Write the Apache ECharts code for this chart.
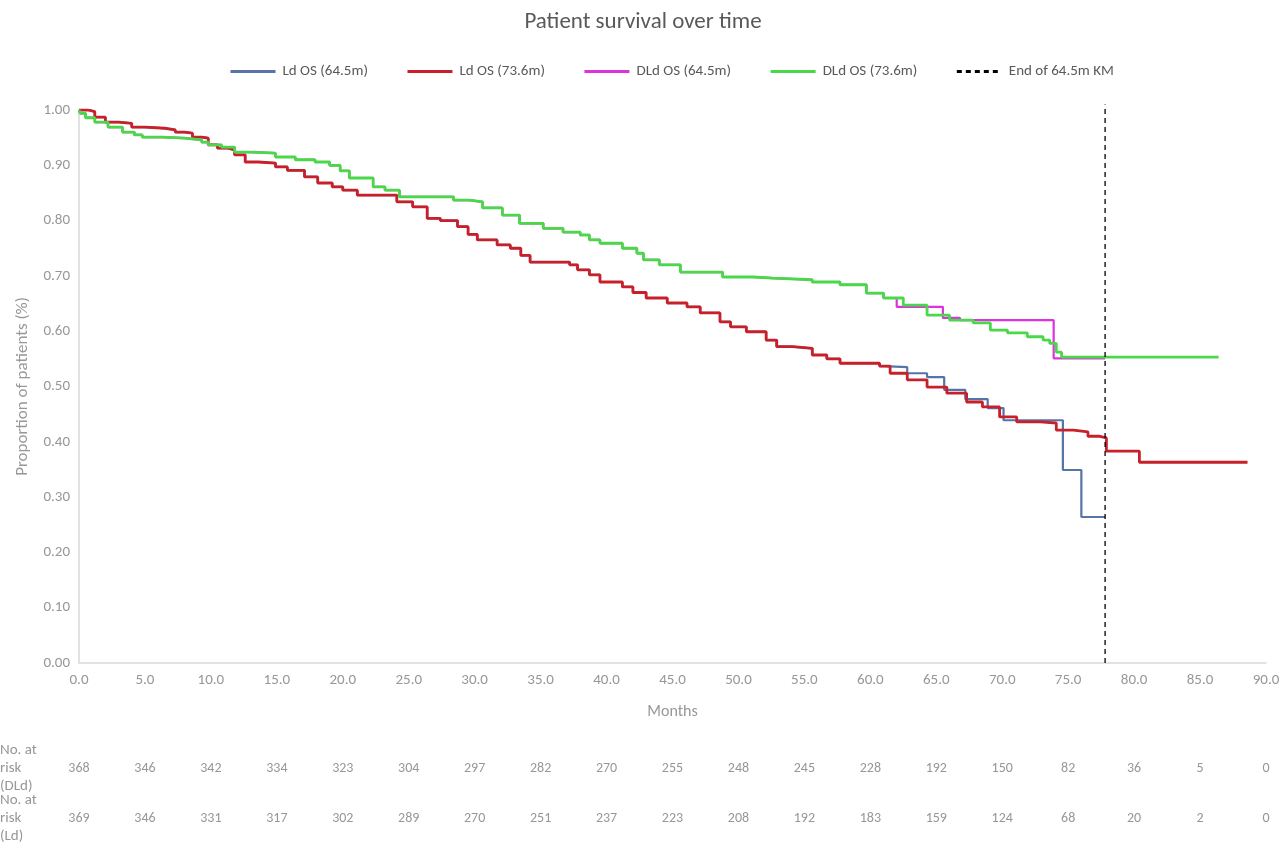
<!DOCTYPE html>
<html>
<head>
<meta charset="utf-8">
<script src="https://cdn.jsdelivr.net/npm/echarts@6/dist/echarts.min.js"></script>
<style>
html,body{margin:0;padding:0;background:#fff;}
#chart{width:1286px;height:854px;}
</style>
</head>
<body>
<div id="chart"></div>
<script>
// ---- Data ----
var titleText = 'Patient survival over time';
var seriesNames = ['Ld OS (64.5m)', 'Ld OS (73.6m)', 'DLd OS (64.5m)', 'DLd OS (73.6m)', 'End of 64.5m KM'];

// Ld OS (73.6m) : [month, survival]
var ldOS736 = [[0,1],[0.7,0.997],[1.2,0.987],[2,0.978],[3,0.976],[4,0.969],[5,0.967],[6.5,0.964],[7.3,0.96],[8,0.958],[8.6,0.951],[9.3,0.949],[9.8,0.937],[10.5,0.931],[11.3,0.928],[11.8,0.919],[12.6,0.906],[13.6,0.904],[14.9,0.897],[15.8,0.891],[17.1,0.879],[18.1,0.868],[19.2,0.861],[20,0.855],[21.1,0.846],[24.1,0.834],[25.3,0.825],[26.4,0.804],[27.4,0.80],[28.7,0.789],[29.5,0.775],[30.2,0.765],[31.7,0.756],[32.7,0.75],[33.5,0.737],[34.2,0.725],[37.2,0.72],[37.8,0.711],[38.7,0.702],[39.5,0.689],[41.2,0.68],[42,0.67],[43,0.66],[44.6,0.651],[46.1,0.644],[47.1,0.633],[48.6,0.617],[49.4,0.608],[50.6,0.599],[52.1,0.584],[52.9,0.572],[54.1,0.569],[55.6,0.557],[56.7,0.55],[57.7,0.542],[60.7,0.537],[61.5,0.524],[62.8,0.512],[64.3,0.499],[65.8,0.488],[67.3,0.472],[68.5,0.463],[69.8,0.445],[71.1,0.436],[72.9,0.434],[74.1,0.421],[75.4,0.418],[76.5,0.41],[77.4,0.407],[77.9,0.383],[80.4,0.363],[88.6,0.363]];
// Ld OS (64.5m): same as above until ~61 months, then:
var ldOS645Tail = [[61,0.535],[62.8,0.524],[64.3,0.517],[65.6,0.494],[67.2,0.477],[68.9,0.461],[70.1,0.439],[74.6,0.349],[76.0,0.264],[77.8,0.264]];
// DLd OS (73.6m)
var dldOS736 = [[0,1],[0.1,0.994],[0.5,0.986],[1.2,0.978],[2.2,0.969],[3.3,0.96],[4.2,0.955],[4.8,0.951],[6.3,0.949],[8,0.946],[9.3,0.942],[9.8,0.937],[10.8,0.933],[11.8,0.924],[13.1,0.922],[14.9,0.915],[16.4,0.91],[17.9,0.906],[19,0.9],[19.8,0.89],[20.5,0.877],[22.3,0.861],[23.2,0.855],[24.3,0.843],[28.4,0.837],[29.6,0.834],[30.6,0.823],[32.1,0.81],[33.4,0.795],[35.2,0.786],[36.7,0.779],[38,0.774],[38.7,0.765],[39.5,0.759],[41.2,0.75],[42.3,0.741],[42.8,0.729],[44,0.72],[45.6,0.707],[48.8,0.698],[51.1,0.696],[52.6,0.693],[55.6,0.689],[57.7,0.684],[59.7,0.669],[61,0.66],[62.5,0.647],[64.3,0.629],[66,0.62],[67.8,0.615],[69.1,0.602],[70.4,0.597],[71.9,0.59],[73.1,0.584],[73.6,0.578],[74.1,0.562],[74.5,0.553],[86.4,0.553]];
// DLd OS (64.5m): same as above until ~61 months, then:
var dldOS645Tail = [[62,0.644],[65.5,0.624],[66.8,0.62],[73.9,0.551],[77.8,0.551]];
// End of 64.5m KM (vertical line)
var endKM = [[77.8,0],[77.8,1.01]];

// Number at risk table
var riskTimes = [0,5,10,15,20,25,30,35,40,45,50,55,60,65,70,75,80,85,90];
var riskDLd = [368,346,342,334,323,304,297,282,270,255,248,245,228,192,150,82,36,5,0];
var riskLd  = [369,346,331,317,302,289,270,251,237,223,208,192,183,159,124,68,20,2,0];
var riskRowLabels = ['No. at\nrisk\n(DLd)', 'No. at\nrisk\n(Ld)'];

// ---- Build ----
var ldOS645 = ldOS736.filter(function(p){return p[0] <= 60.7;}).concat(ldOS645Tail);
var dldOS645 = dldOS736.filter(function(p){return p[0] <= 61;}).concat(dldOS645Tail);

var FONT = 'Carlito, "Liberation Sans Narrow", "Open Sans", sans-serif';
var grey = '#979797';
var chart = echarts.init(document.getElementById('chart'));

function riskAxis(arr, offset) {
  return {
    type: 'value', min: 0, max: 90, interval: 5, position: 'bottom', offset: offset,
    axisLine: {show: false}, axisTick: {show: false}, splitLine: {show: false},
    axisLabel: {
      show: true, showMinLabel: true, showMaxLabel: true, color: grey, fontSize: 14, fontFamily: FONT,
      formatter: function(v){ var i = riskTimes.indexOf(Math.round(v)); return i >= 0 ? String(arr[i]) : ''; }
    }
  };
}

chart.setOption({
  backgroundColor: '#fff',
  animation: false,
  title: {
    text: titleText, left: 'center', top: 6,
    textStyle: {fontFamily: FONT, fontSize: 23, fontWeight: 'normal', color: '#595959'}
  },
  legend: {
    top: 59, left: 224, itemWidth: 45, itemHeight: 12, itemGap: 38,
    itemStyle: {opacity: 0},
    lineStyle: {width: 3},
    textStyle: {fontFamily: FONT, fontSize: 15, color: '#595959', width: 95, padding: [0,0,0,2]},
    data: seriesNames
  },
  grid: {left: 79, right: 20, top: 110, bottom: 191, containLabel: false},
  xAxis: [
    {
      type: 'value', min: 0, max: 90, interval: 5,
      name: 'Months', nameLocation: 'middle', nameGap: 41,
      nameTextStyle: {fontFamily: FONT, fontSize: 16, color: grey},
      axisLine: {show: true, lineStyle: {color: '#d9d9d9', width: 1.5}},
      axisTick: {show: false}, splitLine: {show: false},
      axisLabel: {color: grey, fontSize: 15, fontFamily: FONT, margin: 10, showMaxLabel: true,
        formatter: function(v){ return v.toFixed(1); }}
    },
    riskAxis(riskDLd, 90),
    riskAxis(riskLd, 140)
  ],
  yAxis: {
    type: 'value', min: 0, max: 1, interval: 0.1,
    name: 'Proportion of patients (%)', nameLocation: 'middle', nameGap: 48,
    nameTextStyle: {fontFamily: FONT, fontSize: 17, color: grey},
    axisLine: {show: true, lineStyle: {color: '#d9d9d9', width: 1.5}},
    axisTick: {show: false}, splitLine: {show: false},
    axisLabel: {color: grey, fontSize: 15, fontFamily: FONT, margin: 9,
      formatter: function(v){ return v.toFixed(2); }}
  },
  graphic: [
    {type: 'text', left: 0, top: 741, style: {text: riskRowLabels[0], fill: grey, font: '15px ' + FONT, lineHeight: 18}},
    {type: 'text', left: 0, top: 791, style: {text: riskRowLabels[1], fill: grey, font: '15px ' + FONT, lineHeight: 18}}
  ],
  series: [
    {name: seriesNames[0], type: 'line', step: 'end', data: ldOS645, showSymbol: false, symbol: 'none',
      lineStyle: {color: '#5674a8', width: 2.2}, itemStyle: {color: '#5674a8'}},
    {name: seriesNames[1], type: 'line', step: 'end', data: ldOS736, showSymbol: false, symbol: 'none',
      lineStyle: {color: '#c8202a', width: 2.8}, itemStyle: {color: '#c8202a'}},
    {name: seriesNames[2], type: 'line', step: 'end', data: dldOS645, showSymbol: false, symbol: 'none',
      lineStyle: {color: '#dd33dd', width: 2.2}, itemStyle: {color: '#dd33dd'}},
    {name: seriesNames[3], type: 'line', step: 'end', data: dldOS736, showSymbol: false, symbol: 'none',
      lineStyle: {color: '#4ad84a', width: 2.8}, itemStyle: {color: '#4ad84a'}},
    {name: seriesNames[4], type: 'line', data: endKM, showSymbol: false, symbol: 'none', clip: false,
      lineStyle: {color: '#000', width: 1.3, type: [5, 4]}, itemStyle: {color: '#000'}}
  ]
});
</script>
</body>
</html>
